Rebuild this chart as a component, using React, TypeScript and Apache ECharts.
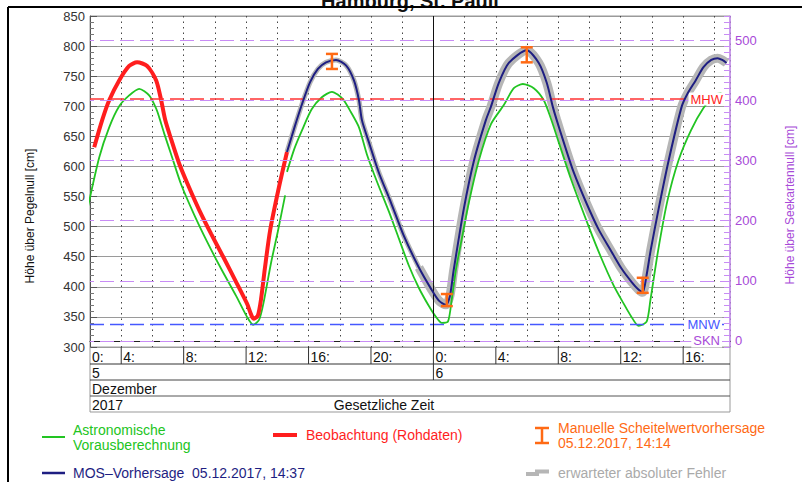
import React, { useEffect, useRef } from "react";
import * as echarts from "echarts";

const FONT = "'Liberation Sans', Arial, Helvetica, sans-serif";

// time axis: hours since 05.12.2017 00:00
const X_MIN = 2;
const X_MAX = 43;
const Y_MIN = 300;
const Y_MAX = 850;
const SKN_OFFSET = 310; // Pegelnull value of Seekartennull

// Beobachtung (Rohdaten)
const obsT = [2.27, 2.78, 3.23, 3.87, 4.51, 5.02, 5.66, 6.24, 6.56, 6.82, 7.2, 7.71, 8.35, 8.99, 9.76, 10.59, 11.42, 12.06, 12.5, 12.75, 12.96, 13.2, 13.54, 14.1, 14.62];
const obsV = [632, 677, 710, 743, 767, 773, 767, 743, 710, 677, 645, 605, 565, 528, 488, 447, 405, 372, 347, 352, 380, 430, 494, 565, 624];

// Astronomische Vorausberechnung (two segments)
const astroAT = [1.82, 2.59, 3.23, 3.87, 4.51, 5.15, 5.79, 6.24, 6.43, 6.75, 7.2, 7.84, 8.67, 9.5, 10.4, 11.36, 12.06, 12.45, 12.83, 13.09, 13.6, 14.05, 14.5];
const astroAV = [527, 615, 665, 700, 718, 729, 718, 696, 682, 655, 620, 570, 520, 475, 430, 385, 350, 337, 345, 370, 440, 494, 552];
const astroBT = [14.62, 15.1, 15.58, 16.2, 16.85, 17.5, 18.2, 18.72, 19.23, 19.74, 20.38, 21.15, 21.79, 22.43, 23.07, 23.71, 24.16, 24.54, 24.93, 25.18, 25.44, 25.82, 26.27, 26.91, 27.68, 28.51, 29.15, 29.73, 30.43, 31.07, 31.52, 32.03, 32.8, 33.95, 34.72, 35.55, 36.19, 36.64, 37.15, 37.66, 37.9, 38.4, 39.0, 39.7, 40.5, 41.3, 42.0, 42.4, 42.6];
const astroBV = [591, 630, 660, 695, 715, 724, 712, 690, 665, 620, 575, 525, 480, 435, 398, 368, 350, 340, 342, 380, 428, 480, 540, 610, 670, 702, 730, 737, 730, 710, 680, 640, 580, 500, 450, 402, 372, 352, 335, 342, 378, 461, 544, 610, 660, 697, 718, 722, 718];

// MOS-Vorhersage 05.12.2017, 14:37
const mosT = [14.62, 15.1, 15.6, 16.1, 16.6, 17.12, 17.76, 18.4, 18.91, 19.23, 19.42, 19.87, 20.5, 21.28, 22.1, 23.07, 23.84, 24.35, 24.8, 25.06, 25.3, 25.95, 26.6, 27.36, 27.68, 28.19, 28.83, 29.98, 30.75, 31.26, 31.65, 31.9, 32.35, 32.99, 33.82, 34.59, 35.42, 36.06, 36.7, 37.15, 37.41, 37.66, 37.92, 38.43, 39.07, 39.9, 40.3, 40.8, 41.3, 41.8, 42.2, 42.5, 42.78];
const mosV = [624, 665, 705, 740, 762, 773, 777, 768, 743, 710, 677, 640, 590, 540, 485, 432, 397, 377, 370, 385, 428, 530, 610, 677, 699, 739, 772, 793, 772, 739, 699, 677, 640, 590, 538, 495, 458, 430, 408, 395, 391, 420, 461, 530, 610, 699, 722, 743, 765, 777, 780, 777, 772];
// the expected error band gets wider after this time
const ERR_SPLIT_T = 23.07;

// Manuelle Scheitelwertvorhersage 05.12.2017, 14:14
const crestT = [17.5, 24.86, 29.98, 37.41];
const crestLow = [762, 368, 773, 390];
const crestHigh = [787, 388, 798, 415];

// reference levels
const MHW = 712;
const MNW = 338;
const sknLevels = [100, 200, 300, 400, 500]; // Seekartennull axis

// time table
const hourTickValues = [2, 4, 8, 12, 16, 20, 24, 28, 32, 36, 40];
const hourTickLabels = ["0:", "4:", "8:", "12:", "16:", "20:", "0:", "4:", "8:", "12:", "16:"];
const dayTickValues = [2, 24];
const dayTickLabels = ["5", "6"];
const monthLabel = "Dezember";
const yearLabel = "2017";
const timeZoneLabel = "Gesetzliche Zeit";

const GREEN = "#22c422";
const RED = "#ff1e1e";
const NAVY = "#1e1e82";
const ORANGE = "#ff6a14";
const GRAY = "#b6b6b6";
const VIOLET = "#c88cf5";
const VIOLET_TEXT = "#a84ad8";
const BLUE = "#4658ff";

const zip = (t: number[], v: number[]) => t.map((x, i) => [x, v[i]]);

export default function App() {
  const ref = useRef<HTMLDivElement>(null);

  useEffect(() => {
    const chart = echarts.init(ref.current!, null, { renderer: "svg" });
    const dash = [14, 6];
    const mosData = zip(mosT, mosV);
    const errNarrow = mosData.filter((d) => d[0] <= ERR_SPLIT_T);
    const errWide = mosData.filter((d) => d[0] >= ERR_SPLIT_T);
    const lineBase = { type: "line", showSymbol: false, smooth: 0.25 };
    const option: any = {
      animation: false,
      backgroundColor: "#fff",
      textStyle: { fontFamily: FONT },
      grid: {
        left: 90,
        right: 72,
        top: 16,
        height: 331,
        show: true,
        borderColor: "#9a9a9a",
        borderWidth: 1,
      },
      xAxis: {
        type: "value",
        min: X_MIN,
        max: X_MAX,
        interval: 2,
        axisLabel: { show: false },
        axisTick: { show: false },
        axisLine: { show: true, lineStyle: { color: "#222", width: 1 } },
        splitLine: { show: true, lineStyle: { color: "#444", type: [1.5, 4], width: 1 } },
      },
      yAxis: [
        {
          type: "value",
          min: Y_MIN,
          max: Y_MAX,
          interval: 50,
          axisLine: { show: true, lineStyle: { color: "#555" } },
          axisTick: { show: true, inside: true, length: 7, lineStyle: { color: "#555" } },
          minorTick: { show: true, splitNumber: 5, length: 4, lineStyle: { color: "#777" } },
          axisLabel: { color: "#333", fontSize: 13, margin: 5, fontFamily: FONT },
          splitLine: { show: true, lineStyle: { color: "#9a9a9a", width: 1 } },
        },
        {
          type: "value",
          position: "right",
          min: Y_MIN - SKN_OFFSET,
          max: Y_MAX - SKN_OFFSET,
          interval: 10,
          axisLine: { show: true, lineStyle: { color: VIOLET, width: 1.5 } },
          axisTick: { show: true, inside: true, length: 6, lineStyle: { color: VIOLET } },
          axisLabel: {
            color: VIOLET_TEXT,
            fontSize: 13,
            margin: 5,
            fontFamily: FONT,
            formatter: (v: number) => (v >= 0 && v % 100 === 0 ? String(v) : ""),
          },
          splitLine: { show: false },
        },
      ],
      series: [
        {
          name: "SKN-Linien",
          type: "line",
          yAxisIndex: 1,
          data: [],
          z: 1,
          markLine: {
            silent: true,
            symbol: ["none", "none"],
            lineStyle: { color: VIOLET, type: dash, width: 1.2, dashOffset: 10 },
            label: { show: false },
            data: [
              ...sknLevels.map((v) => ({ yAxis: v })),
              {
                yAxis: 0,
                name: "SKN",
                label: {
                  show: true,
                  position: "insideEnd",
                  formatter: "{b}",
                  color: VIOLET_TEXT,
                  fontSize: 13,
                  fontFamily: FONT,
                  backgroundColor: "#fff",
                  padding: [0, 2],
                  distance: 8,
                },
              },
            ],
          },
        },
        {
          ...lineBase,
          name: "erwarteter absoluter Fehler",
          data: errNarrow,
          lineStyle: { color: GRAY, width: 5 },
          z: 2,
        },
        {
          ...lineBase,
          name: "erwarteter absoluter Fehler B",
          data: errWide,
          lineStyle: { color: GRAY, width: 9 },
          z: 2,
        },
        {
          ...lineBase,
          name: "Astronomische Vorausberechnung",
          data: zip(astroAT, astroAV),
          lineStyle: { color: GREEN, width: 1.8 },
          z: 3,
        },
        {
          ...lineBase,
          name: "Astronomische Vorausberechnung B",
          data: zip(astroBT, astroBV),
          lineStyle: { color: GREEN, width: 1.8 },
          z: 3,
        },
        {
          ...lineBase,
          name: "Beobachtung (Rohdaten)",
          data: zip(obsT, obsV),
          lineStyle: { color: RED, width: 4 },
          z: 4,
          markLine: {
            silent: true,
            symbol: ["none", "none"],
            data: [
              {
                yAxis: MHW,
                name: "MHW",
                lineStyle: { color: "#ff3434", type: dash, width: 1.5 },
                label: {
                  show: true,
                  position: "insideEnd",
                  formatter: "{b}",
                  color: RED,
                  fontSize: 13,
                  fontFamily: FONT,
                  backgroundColor: "#fff",
                  padding: [0, 2],
                  distance: 5,
                },
              },
              {
                yAxis: MNW,
                name: "MNW",
                lineStyle: { color: BLUE, type: dash, width: 1.3 },
                label: {
                  show: true,
                  position: "insideEnd",
                  formatter: "{b}",
                  color: BLUE,
                  fontSize: 13,
                  fontFamily: FONT,
                  backgroundColor: "#fff",
                  padding: [0, 2],
                  distance: 8,
                },
              },
              {
                xAxis: 24,
                lineStyle: { color: "#111", type: "solid", width: 1 },
                label: { show: false },
              },
            ],
          },
        },
        {
          ...lineBase,
          name: "MOS-Vorhersage",
          data: mosData,
          lineStyle: { color: NAVY, width: 2 },
          z: 5,
        },
        {
          name: "Manuelle Scheitelwertvorhersage",
          type: "custom",
          data: crestT.map((t, i) => [t, crestLow[i], crestHigh[i]]),
          encode: { x: 0, y: [1, 2] },
          z: 6,
          renderItem: (params: any, api: any) => {
            const lo = api.coord([api.value(0), api.value(1)]);
            const hi = api.coord([api.value(0), api.value(2)]);
            const hw = 6;
            const st = { stroke: ORANGE, lineWidth: 2.5 };
            return {
              type: "group",
              children: [
                { type: "line", shape: { x1: lo[0], y1: lo[1], x2: hi[0], y2: hi[1] }, style: st },
                { type: "line", shape: { x1: lo[0] - hw, y1: lo[1], x2: lo[0] + hw, y2: lo[1] }, style: st },
                { type: "line", shape: { x1: hi[0] - hw, y1: hi[1], x2: hi[0] + hw, y2: hi[1] }, style: st },
              ],
            };
          },
        },
      ],
    };
    chart.setOption(option);

    const px = (t: number) => chart.convertToPixel({ xAxisIndex: 0 }, t) as number;
    const py = (v: number) => chart.convertToPixel({ yAxisIndex: 0 }, v) as number;
    const xL = px(X_MIN);
    const xR = px(X_MAX);
    const yB = py(Y_MIN);
    const rows = [yB, yB + 17, yB + 33, yB + 49, yB + 65];

    const txt = (text: string, x: number, y: number, color: string, size: number, align = "left", extra: any = {}) => ({
      type: "text",
      x,
      y,
      silent: true,
      style: {
        text,
        fill: color,
        font: `${extra.weight || "normal"} ${size}px ${FONT}`,
        align,
        textAlign: align,
        verticalAlign: "middle",
        textVerticalAlign: "middle",
      },
      z: 10,
    });
    const ln = (x1: number, y1: number, x2: number, y2: number, color: string, w = 1) => ({
      type: "line",
      silent: true,
      shape: { x1, y1, x2, y2 },
      style: { stroke: color, lineWidth: w },
      z: 10,
    });

    const els: any[] = [];
    // title (mostly cut off at the top, as in the original page)
    els.push({
      type: "text",
      x: 410,
      y: 11,
      silent: true,
      style: {
        text: "Hamburg, St. Pauli",
        fill: "#111",
        font: `bold 20px ${FONT}`,
        align: "center",
        textAlign: "center",
        verticalAlign: "bottom",
        textVerticalAlign: "bottom",
      },
      z: 9,
    });
    // outer frame
    els.push(ln(8, 7, 802, 7, "#000", 2));
    els.push(ln(8, 7, 8, 482, "#000", 2));

    // time table
    els.push(ln(xL, rows[0], xL, rows[4], "#999"));
    els.push(ln(xR, rows[0], xR, rows[4], "#999"));
    els.push(ln(xL, rows[1], xR, rows[1], "#333"));
    els.push(ln(xL, rows[2], xR, rows[2], "#444"));
    els.push(ln(xL, rows[3], xR, rows[3], "#555"));
    els.push(ln(xL, rows[4], xR, rows[4], "#999"));
    hourTickValues.forEach((t, i) => {
      const x = px(t);
      if (t > X_MIN) els.push(ln(x, rows[0], x, rows[1], "#333"));
      els.push(txt(hourTickLabels[i], x + 2, (rows[0] + rows[1]) / 2 + 1, "#111", 14));
    });
    dayTickValues.forEach((t, i) => {
      const x = px(t);
      if (t > X_MIN) els.push(ln(x, rows[1], x, rows[2], "#333"));
      els.push(txt(dayTickLabels[i], x + 2, (rows[1] + rows[2]) / 2 + 1, "#111", 14));
    });
    els.push(txt(monthLabel, xL + 2, (rows[2] + rows[3]) / 2 + 1, "#111", 14));
    els.push(txt(yearLabel, xL + 2, (rows[3] + rows[4]) / 2 + 1, "#111", 14));
    els.push(txt(timeZoneLabel, 384, (rows[3] + rows[4]) / 2 + 1, "#111", 14, "center"));

    // axis names
    els.push({
      ...txt("Höhe über Pegelnull [cm]", 30, 216, "#111", 12, "center"),
      rotation: Math.PI / 2,
    });
    els.push({
      ...txt("Höhe über Seekartennull [cm]", 790, 205, VIOLET_TEXT, 12, "center"),
      rotation: Math.PI / 2,
    });

    // legend
    els.push(ln(42, 437, 65, 437, GREEN, 2));
    els.push(txt("Astronomische", 73, 430, GREEN, 14));
    els.push(txt("Vorausberechnung", 73, 445, GREEN, 14));
    els.push(ln(273, 435, 297, 435, RED, 4));
    els.push(txt("Beobachtung (Rohdaten)", 306, 435, RED, 14));
    els.push(ln(542, 428, 542, 443, ORANGE, 2.5));
    els.push(ln(535, 428, 549, 428, ORANGE, 2.5));
    els.push(ln(535, 443, 549, 443, ORANGE, 2.5));
    els.push(txt("Manuelle Scheitelwertvorhersage", 558, 428, ORANGE, 14));
    els.push(txt("05.12.2017, 14:14", 558, 443, ORANGE, 14));
    els.push(ln(42, 473, 65, 473, NAVY, 2.5));
    els.push(txt("MOS–Vorhersage  05.12.2017, 14:37", 73, 473, NAVY, 14));
    els.push({
      type: "polyline",
      silent: true,
      shape: { points: [[526, 474], [537, 474], [537, 471.5], [549, 471.5]] },
      style: { stroke: GRAY, lineWidth: 4, fill: "none" },
      z: 10,
    });
    els.push(txt("erwarteter absoluter Fehler", 558, 473, "#aaa", 14));

    chart.setOption({ graphic: { elements: els } });

    return () => chart.dispose();
  }, []);

  return (
    <div
      ref={ref}
      style={{ position: "fixed", left: 0, top: 0, width: 802, height: 482, background: "#fff" }}
    />
  );
}
